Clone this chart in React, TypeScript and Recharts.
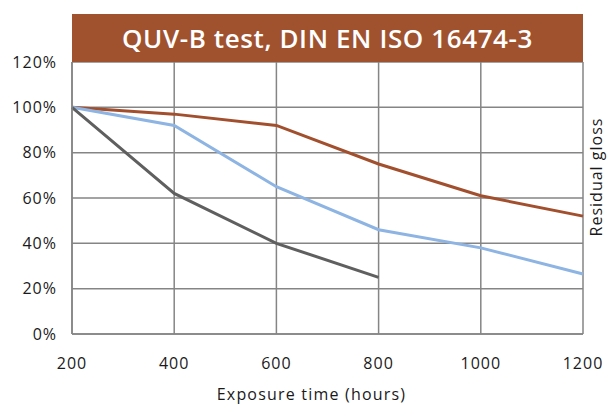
import React from "react";
import { LineChart, Line, XAxis, YAxis, CartesianGrid } from "recharts";

const hours = [200, 400, 600, 800, 1000, 1200];
const brownSeries = [100, 97, 92, 75, 61, 52];
const blueSeries = [100, 92, 65, 46, 38, 26.5];
const graySeries = [100, 62, 40, 25, null, null];
const yTicks = [0, 20, 40, 60, 80, 100, 120];
const title = "QUV-B test, DIN EN ISO 16474-3";

const data = hours.map((h, i) => ({
  h,
  brown: brownSeries[i],
  blue: blueSeries[i],
  gray: graySeries[i],
}));

const FONT = "'Open Sans', 'DejaVu Sans', sans-serif";
const TEXT = "#1a1a1a";

const RightLabel = (props: any) => {
  const vb = props.viewBox || {};
  const x = vb.x + vb.width / 2 + 1;
  const y = vb.y + vb.height / 2 - 21;
  return (
    <text
      x={x}
      y={y}
      transform={`rotate(-90, ${x}, ${y})`}
      textAnchor="middle"
      dominantBaseline="central"
      fill={TEXT}
      fontSize={16}
      fontFamily={FONT}
      letterSpacing={1}
    >
      Residual gloss
    </text>
  );
};

const BottomLabel = (props: any) => {
  const vb = props.viewBox || {};
  const x = vb.x + vb.width / 2 - 16;
  const y = vb.y + vb.height - 12;
  return (
    <text
      x={x}
      y={y}
      textAnchor="middle"
      dominantBaseline="central"
      fill={TEXT}
      fontSize={16}
      fontFamily={FONT}
      letterSpacing={1.2}
    >
      Exposure time (hours)
    </text>
  );
};

export default function App() {
  return (
    <div style={{ position: "absolute", left: 0, top: 0, width: 607, height: 406 }}>
      <LineChart
        width={607}
        height={406}
        data={data}
        margin={{ top: 62, right: 0, left: 0, bottom: 0 }}
      >
        <CartesianGrid stroke="#858585" strokeWidth={1.5} />
        <XAxis
          dataKey="h"
          type="number"
          domain={[200, 1200]}
          ticks={hours}
          axisLine={{ stroke: "#858585", strokeWidth: 1.5 }}
          tickLine={false}
          tickSize={0}
          tickMargin={24}
          height={72}
          tick={{ fill: TEXT, fontSize: 16, fontFamily: FONT, letterSpacing: 1 }}
          label={{ content: BottomLabel }}
        />
        <YAxis
          type="number"
          domain={[0, 120]}
          ticks={yTicks}
          axisLine={{ stroke: "#858585", strokeWidth: 1.5 }}
          tickLine={false}
          tickSize={0}
          tickMargin={15}
          width={72}
          tickFormatter={(v: number) => `${v}%`}
          tick={{ fill: TEXT, fontSize: 16, fontFamily: FONT, letterSpacing: 1 }}
        />
        <YAxis
          yAxisId="right"
          orientation="right"
          width={24}
          axisLine={false}
          tickLine={false}
          tick={false}
          label={{ content: RightLabel }}
        />
        <Line
          dataKey="brown"
          stroke="#A24F2E"
          strokeWidth={3}
          dot={false}
          isAnimationActive={false}
        />
        <Line
          dataKey="blue"
          stroke="#8DB4E2"
          strokeWidth={3}
          dot={false}
          isAnimationActive={false}
        />
        <Line
          dataKey="gray"
          stroke="#5F5F5F"
          strokeWidth={3}
          dot={false}
          isAnimationActive={false}
        />
      </LineChart>
      <div
        style={{
          position: "absolute",
          left: 72,
          top: 14,
          width: 511,
          height: 48,
          background: "#A0522F",
          color: "#ffffff",
          fontFamily: FONT,
          fontWeight: 600,
          fontSize: 26,
          display: "flex",
          alignItems: "center",
          justifyContent: "center",
          letterSpacing: 0.6,
        }}
      >
        {title}
      </div>
    </div>
  );
}
